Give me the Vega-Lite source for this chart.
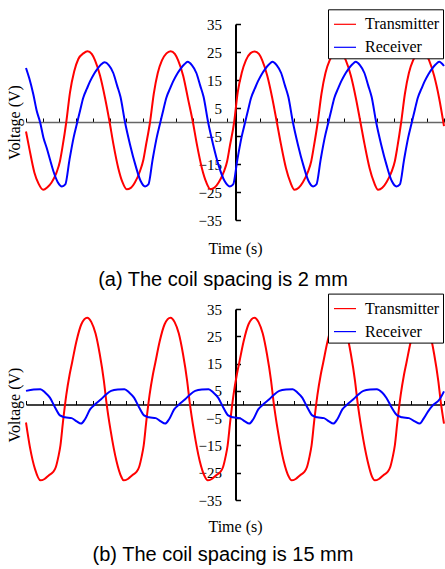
{
"$schema": "https://vega.github.io/schema/vega-lite/v6.json",
"padding": {"left": 6, "top": 8, "right": 0, "bottom": 0},
"bounds": "flush",
"spacing": 89,
"background": "white",
"config": {
  "view": {"stroke": null},
  "axis": {"grid": false, "domainColor": "black", "tickColor": "black", "labelColor": "black", "titleColor": "black", "labelFont": "Liberation Serif", "titleFont": "Liberation Serif", "titleFontWeight": "normal"},
  "legend": {"labelFont": "Liberation Serif", "labelFontSize": 16, "labelColor": "black"}
},
"resolve": {"scale": {"color": "independent"}, "legend": {"color": "independent"}},
"datasets": {
"a": [
{"t":0,"v":-3.4,"s":"Transmitter"},{"t":0.2,"v":-9.5,"s":"Transmitter"},{"t":0.5,"v":-18,"s":"Transmitter"},{"t":0.75,"v":-22,"s":"Transmitter"},{"t":1.03,"v":-24.2,"s":"Transmitter"},{"t":1.28,"v":-23.3,"s":"Transmitter"},{"t":1.53,"v":-21.6,"s":"Transmitter"},{"t":1.83,"v":-18,"s":"Transmitter"},{"t":2.03,"v":-14,"s":"Transmitter"},{"t":2.18,"v":-9,"s":"Transmitter"},{"t":2.41,"v":0,"s":"Transmitter"},{"t":2.63,"v":10.5,"s":"Transmitter"},{"t":2.88,"v":18,"s":"Transmitter"},{"t":3.13,"v":22.5,"s":"Transmitter"},{"t":3.43,"v":24.5,"s":"Transmitter"},{"t":3.68,"v":25.3,"s":"Transmitter"},{"t":3.93,"v":24.3,"s":"Transmitter"},{"t":4.13,"v":22,"s":"Transmitter"},{"t":4.43,"v":16.5,"s":"Transmitter"},{"t":4.73,"v":8.5,"s":"Transmitter"},{"t":5.0,"v":0,"s":"Transmitter"},{"t":5.23,"v":-8,"s":"Transmitter"},{"t":5.52,"v":-16.5,"s":"Transmitter"},{"t":5.77,"v":-21.5,"s":"Transmitter"},{"t":6.02,"v":-24,"s":"Transmitter"},{"t":6.27,"v":-23.5,"s":"Transmitter"},{"t":6.52,"v":-21.5,"s":"Transmitter"},{"t":6.82,"v":-17.5,"s":"Transmitter"},{"t":7.02,"v":-13.5,"s":"Transmitter"},{"t":7.17,"v":-8.5,"s":"Transmitter"},{"t":7.42,"v":0,"s":"Transmitter"},{"t":7.64,"v":10,"s":"Transmitter"},{"t":7.88,"v":17.5,"s":"Transmitter"},{"t":8.13,"v":22,"s":"Transmitter"},{"t":8.4,"v":24.5,"s":"Transmitter"},{"t":8.65,"v":25.3,"s":"Transmitter"},{"t":8.9,"v":24.3,"s":"Transmitter"},{"t":9.1,"v":22,"s":"Transmitter"},{"t":9.4,"v":16.5,"s":"Transmitter"},{"t":9.7,"v":8,"s":"Transmitter"},{"t":9.98,"v":0,"s":"Transmitter"},{"t":10.22,"v":-8,"s":"Transmitter"},{"t":10.52,"v":-16.5,"s":"Transmitter"},{"t":10.78,"v":-21.5,"s":"Transmitter"},{"t":11.03,"v":-24,"s":"Transmitter"},{"t":11.28,"v":-23.4,"s":"Transmitter"},{"t":11.53,"v":-21.5,"s":"Transmitter"},{"t":11.83,"v":-17.8,"s":"Transmitter"},{"t":12.03,"v":-14,"s":"Transmitter"},{"t":12.18,"v":-9,"s":"Transmitter"},{"t":12.45,"v":0,"s":"Transmitter"},{"t":12.66,"v":10.5,"s":"Transmitter"},{"t":12.9,"v":17.5,"s":"Transmitter"},{"t":13.15,"v":22,"s":"Transmitter"},{"t":13.43,"v":24.6,"s":"Transmitter"},{"t":13.68,"v":25.2,"s":"Transmitter"},{"t":13.93,"v":24.3,"s":"Transmitter"},{"t":14.13,"v":22,"s":"Transmitter"},{"t":14.43,"v":16.5,"s":"Transmitter"},{"t":14.73,"v":8.5,"s":"Transmitter"},{"t":15.0,"v":0,"s":"Transmitter"},{"t":15.25,"v":-8,"s":"Transmitter"},{"t":15.55,"v":-16.5,"s":"Transmitter"},{"t":15.81,"v":-21.5,"s":"Transmitter"},{"t":16.06,"v":-24.2,"s":"Transmitter"},{"t":16.31,"v":-23.5,"s":"Transmitter"},{"t":16.56,"v":-21.5,"s":"Transmitter"},{"t":16.86,"v":-17.8,"s":"Transmitter"},{"t":17.06,"v":-14,"s":"Transmitter"},{"t":17.21,"v":-9,"s":"Transmitter"},{"t":17.45,"v":0,"s":"Transmitter"},{"t":17.67,"v":10,"s":"Transmitter"},{"t":17.91,"v":17.5,"s":"Transmitter"},{"t":18.16,"v":22,"s":"Transmitter"},{"t":18.43,"v":24.5,"s":"Transmitter"},{"t":18.68,"v":25.3,"s":"Transmitter"},{"t":18.93,"v":24.3,"s":"Transmitter"},{"t":19.13,"v":22,"s":"Transmitter"},{"t":19.43,"v":16.5,"s":"Transmitter"},{"t":19.73,"v":8.5,"s":"Transmitter"},{"t":20.0,"v":0,"s":"Transmitter"},{"t":20.25,"v":-8,"s":"Transmitter"},{"t":20.55,"v":-16.5,"s":"Transmitter"},{"t":20.81,"v":-21.5,"s":"Transmitter"},{"t":21.06,"v":-24.2,"s":"Transmitter"},{"t":21.31,"v":-23.5,"s":"Transmitter"},{"t":21.56,"v":-21.5,"s":"Transmitter"},{"t":21.86,"v":-17.8,"s":"Transmitter"},{"t":22.06,"v":-14,"s":"Transmitter"},{"t":22.21,"v":-9,"s":"Transmitter"},{"t":22.44,"v":0,"s":"Transmitter"},{"t":22.66,"v":10,"s":"Transmitter"},{"t":22.9,"v":17.5,"s":"Transmitter"},{"t":23.15,"v":22,"s":"Transmitter"},{"t":23.42,"v":24.5,"s":"Transmitter"},{"t":23.66,"v":25.3,"s":"Transmitter"},{"t":23.91,"v":24.3,"s":"Transmitter"},{"t":24.11,"v":22,"s":"Transmitter"},{"t":24.41,"v":16.5,"s":"Transmitter"},{"t":24.71,"v":8.5,"s":"Transmitter"},{"t":25.0,"v":-1.5,"s":"Transmitter"},
{"t":0,"v":19.3,"s":"Receiver"},{"t":0.2,"v":15.5,"s":"Receiver"},{"t":0.44,"v":9.8,"s":"Receiver"},{"t":0.64,"v":4,"s":"Receiver"},{"t":0.84,"v":0,"s":"Receiver"},{"t":1.04,"v":-5.5,"s":"Receiver"},{"t":1.24,"v":-9.3,"s":"Receiver"},{"t":1.44,"v":-13.5,"s":"Receiver"},{"t":1.64,"v":-17.6,"s":"Receiver"},{"t":1.9,"v":-21.5,"s":"Receiver"},{"t":2.15,"v":-23,"s":"Receiver"},{"t":2.35,"v":-22.3,"s":"Receiver"},{"t":2.6,"v":-13.5,"s":"Receiver"},{"t":2.85,"v":-5.5,"s":"Receiver"},{"t":3.07,"v":0,"s":"Receiver"},{"t":3.25,"v":4.5,"s":"Receiver"},{"t":3.42,"v":8.6,"s":"Receiver"},{"t":3.65,"v":12,"s":"Receiver"},{"t":3.83,"v":14.5,"s":"Receiver"},{"t":4.05,"v":17,"s":"Receiver"},{"t":4.25,"v":18.8,"s":"Receiver"},{"t":4.5,"v":20.6,"s":"Receiver"},{"t":4.7,"v":21.3,"s":"Receiver"},{"t":4.95,"v":20.3,"s":"Receiver"},{"t":5.22,"v":17.5,"s":"Receiver"},{"t":5.45,"v":13,"s":"Receiver"},{"t":5.65,"v":9,"s":"Receiver"},{"t":5.92,"v":0,"s":"Receiver"},{"t":6.22,"v":-8,"s":"Receiver"},{"t":6.55,"v":-15.5,"s":"Receiver"},{"t":6.85,"v":-21,"s":"Receiver"},{"t":7.12,"v":-23,"s":"Receiver"},{"t":7.32,"v":-22.3,"s":"Receiver"},{"t":7.57,"v":-13.5,"s":"Receiver"},{"t":7.82,"v":-5.5,"s":"Receiver"},{"t":8.04,"v":0,"s":"Receiver"},{"t":8.22,"v":4.5,"s":"Receiver"},{"t":8.39,"v":8.6,"s":"Receiver"},{"t":8.62,"v":12,"s":"Receiver"},{"t":8.8,"v":14.5,"s":"Receiver"},{"t":9.02,"v":17,"s":"Receiver"},{"t":9.22,"v":18.8,"s":"Receiver"},{"t":9.47,"v":20.6,"s":"Receiver"},{"t":9.67,"v":21.5,"s":"Receiver"},{"t":9.92,"v":20.3,"s":"Receiver"},{"t":10.19,"v":17.5,"s":"Receiver"},{"t":10.42,"v":13,"s":"Receiver"},{"t":10.62,"v":9,"s":"Receiver"},{"t":10.89,"v":0,"s":"Receiver"},{"t":11.19,"v":-8,"s":"Receiver"},{"t":11.52,"v":-15.5,"s":"Receiver"},{"t":11.87,"v":-21,"s":"Receiver"},{"t":12.19,"v":-23,"s":"Receiver"},{"t":12.39,"v":-22.3,"s":"Receiver"},{"t":12.64,"v":-13.5,"s":"Receiver"},{"t":12.89,"v":-5.5,"s":"Receiver"},{"t":13.11,"v":0,"s":"Receiver"},{"t":13.29,"v":4.5,"s":"Receiver"},{"t":13.46,"v":8.6,"s":"Receiver"},{"t":13.69,"v":12,"s":"Receiver"},{"t":13.87,"v":14.5,"s":"Receiver"},{"t":14.09,"v":17,"s":"Receiver"},{"t":14.29,"v":18.8,"s":"Receiver"},{"t":14.54,"v":20.6,"s":"Receiver"},{"t":14.74,"v":21.5,"s":"Receiver"},{"t":14.99,"v":20.3,"s":"Receiver"},{"t":15.26,"v":17.5,"s":"Receiver"},{"t":15.49,"v":13,"s":"Receiver"},{"t":15.69,"v":9,"s":"Receiver"},{"t":15.96,"v":0,"s":"Receiver"},{"t":16.26,"v":-8,"s":"Receiver"},{"t":16.59,"v":-15.5,"s":"Receiver"},{"t":16.89,"v":-21,"s":"Receiver"},{"t":17.17,"v":-23,"s":"Receiver"},{"t":17.37,"v":-22.3,"s":"Receiver"},{"t":17.62,"v":-13.5,"s":"Receiver"},{"t":17.87,"v":-5.5,"s":"Receiver"},{"t":18.09,"v":0,"s":"Receiver"},{"t":18.27,"v":4.5,"s":"Receiver"},{"t":18.44,"v":8.6,"s":"Receiver"},{"t":18.67,"v":12,"s":"Receiver"},{"t":18.85,"v":14.5,"s":"Receiver"},{"t":19.07,"v":17,"s":"Receiver"},{"t":19.27,"v":18.8,"s":"Receiver"},{"t":19.52,"v":20.6,"s":"Receiver"},{"t":19.72,"v":21.5,"s":"Receiver"},{"t":19.97,"v":20.3,"s":"Receiver"},{"t":20.24,"v":17.5,"s":"Receiver"},{"t":20.47,"v":13,"s":"Receiver"},{"t":20.67,"v":9,"s":"Receiver"},{"t":20.94,"v":0,"s":"Receiver"},{"t":21.24,"v":-8,"s":"Receiver"},{"t":21.57,"v":-15.5,"s":"Receiver"},{"t":21.87,"v":-21,"s":"Receiver"},{"t":22.16,"v":-23,"s":"Receiver"},{"t":22.36,"v":-22.3,"s":"Receiver"},{"t":22.61,"v":-13.5,"s":"Receiver"},{"t":22.86,"v":-5.5,"s":"Receiver"},{"t":23.08,"v":0,"s":"Receiver"},{"t":23.26,"v":4.5,"s":"Receiver"},{"t":23.43,"v":8.6,"s":"Receiver"},{"t":23.66,"v":12,"s":"Receiver"},{"t":23.84,"v":14.5,"s":"Receiver"},{"t":24.06,"v":17,"s":"Receiver"},{"t":24.26,"v":18.8,"s":"Receiver"},{"t":24.51,"v":20.6,"s":"Receiver"},{"t":24.71,"v":21.5,"s":"Receiver"},{"t":25,"v":20,"s":"Receiver"}
],
"b": [
{"t":0,"v":-6.6,"s":"Transmitter"},{"t":0.24,"v":-15.8,"s":"Transmitter"},{"t":0.54,"v":-23.7,"s":"Transmitter"},{"t":0.86,"v":-27.8,"s":"Transmitter"},{"t":1.11,"v":-27.3,"s":"Transmitter"},{"t":1.36,"v":-26,"s":"Transmitter"},{"t":1.61,"v":-24.8,"s":"Transmitter"},{"t":1.78,"v":-23,"s":"Transmitter"},{"t":1.94,"v":-19,"s":"Transmitter"},{"t":2.06,"v":-15,"s":"Transmitter"},{"t":2.21,"v":-6.5,"s":"Transmitter"},{"t":2.41,"v":3.5,"s":"Transmitter"},{"t":2.61,"v":11,"s":"Transmitter"},{"t":2.76,"v":15.5,"s":"Transmitter"},{"t":3.01,"v":23,"s":"Transmitter"},{"t":3.31,"v":29.4,"s":"Transmitter"},{"t":3.66,"v":31.8,"s":"Transmitter"},{"t":3.91,"v":30.2,"s":"Transmitter"},{"t":4.16,"v":26,"s":"Transmitter"},{"t":4.41,"v":18.5,"s":"Transmitter"},{"t":4.66,"v":8.6,"s":"Transmitter"},{"t":4.81,"v":0.8,"s":"Transmitter"},{"t":5.06,"v":-9.5,"s":"Transmitter"},{"t":5.41,"v":-20.7,"s":"Transmitter"},{"t":5.7,"v":-26.5,"s":"Transmitter"},{"t":5.84,"v":-27.8,"s":"Transmitter"},{"t":6.09,"v":-27.3,"s":"Transmitter"},{"t":6.34,"v":-26,"s":"Transmitter"},{"t":6.59,"v":-24.8,"s":"Transmitter"},{"t":6.76,"v":-23,"s":"Transmitter"},{"t":6.92,"v":-19,"s":"Transmitter"},{"t":7.04,"v":-15,"s":"Transmitter"},{"t":7.19,"v":-6.5,"s":"Transmitter"},{"t":7.39,"v":3.5,"s":"Transmitter"},{"t":7.59,"v":11,"s":"Transmitter"},{"t":7.74,"v":15.5,"s":"Transmitter"},{"t":7.99,"v":23,"s":"Transmitter"},{"t":8.29,"v":29.4,"s":"Transmitter"},{"t":8.64,"v":31.8,"s":"Transmitter"},{"t":8.89,"v":30.2,"s":"Transmitter"},{"t":9.14,"v":26,"s":"Transmitter"},{"t":9.39,"v":18.5,"s":"Transmitter"},{"t":9.64,"v":8.6,"s":"Transmitter"},{"t":9.79,"v":0.8,"s":"Transmitter"},{"t":10.04,"v":-9.5,"s":"Transmitter"},{"t":10.39,"v":-20.7,"s":"Transmitter"},{"t":10.7,"v":-26.5,"s":"Transmitter"},{"t":10.86,"v":-27.8,"s":"Transmitter"},{"t":11.11,"v":-27.3,"s":"Transmitter"},{"t":11.36,"v":-26,"s":"Transmitter"},{"t":11.61,"v":-24.8,"s":"Transmitter"},{"t":11.78,"v":-23,"s":"Transmitter"},{"t":11.94,"v":-19,"s":"Transmitter"},{"t":12.06,"v":-15,"s":"Transmitter"},{"t":12.21,"v":-6.5,"s":"Transmitter"},{"t":12.41,"v":3.5,"s":"Transmitter"},{"t":12.61,"v":11,"s":"Transmitter"},{"t":12.76,"v":15.5,"s":"Transmitter"},{"t":13.01,"v":23,"s":"Transmitter"},{"t":13.31,"v":29.4,"s":"Transmitter"},{"t":13.66,"v":31.8,"s":"Transmitter"},{"t":13.91,"v":30.2,"s":"Transmitter"},{"t":14.16,"v":26,"s":"Transmitter"},{"t":14.41,"v":18.5,"s":"Transmitter"},{"t":14.66,"v":8.6,"s":"Transmitter"},{"t":14.81,"v":0.8,"s":"Transmitter"},{"t":15.06,"v":-9.5,"s":"Transmitter"},{"t":15.41,"v":-20.7,"s":"Transmitter"},{"t":15.72,"v":-26.5,"s":"Transmitter"},{"t":15.88,"v":-27.8,"s":"Transmitter"},{"t":16.13,"v":-27.3,"s":"Transmitter"},{"t":16.38,"v":-26,"s":"Transmitter"},{"t":16.63,"v":-24.8,"s":"Transmitter"},{"t":16.8,"v":-23,"s":"Transmitter"},{"t":16.96,"v":-19,"s":"Transmitter"},{"t":17.08,"v":-15,"s":"Transmitter"},{"t":17.23,"v":-6.5,"s":"Transmitter"},{"t":17.43,"v":3.5,"s":"Transmitter"},{"t":17.63,"v":11,"s":"Transmitter"},{"t":17.78,"v":15.5,"s":"Transmitter"},{"t":18.03,"v":23,"s":"Transmitter"},{"t":18.33,"v":29.4,"s":"Transmitter"},{"t":18.68,"v":31.8,"s":"Transmitter"},{"t":18.93,"v":30.2,"s":"Transmitter"},{"t":19.18,"v":26,"s":"Transmitter"},{"t":19.43,"v":18.5,"s":"Transmitter"},{"t":19.68,"v":8.6,"s":"Transmitter"},{"t":19.83,"v":0.8,"s":"Transmitter"},{"t":20.08,"v":-9.5,"s":"Transmitter"},{"t":20.43,"v":-20.7,"s":"Transmitter"},{"t":20.7,"v":-26.5,"s":"Transmitter"},{"t":20.86,"v":-27.8,"s":"Transmitter"},{"t":21.11,"v":-27.3,"s":"Transmitter"},{"t":21.36,"v":-26,"s":"Transmitter"},{"t":21.61,"v":-24.8,"s":"Transmitter"},{"t":21.78,"v":-23,"s":"Transmitter"},{"t":21.94,"v":-19,"s":"Transmitter"},{"t":22.06,"v":-15,"s":"Transmitter"},{"t":22.21,"v":-6.5,"s":"Transmitter"},{"t":22.41,"v":3.5,"s":"Transmitter"},{"t":22.61,"v":11,"s":"Transmitter"},{"t":22.76,"v":15.5,"s":"Transmitter"},{"t":23.01,"v":23,"s":"Transmitter"},{"t":23.31,"v":29.4,"s":"Transmitter"},{"t":23.66,"v":31.8,"s":"Transmitter"},{"t":23.91,"v":30.2,"s":"Transmitter"},{"t":24.16,"v":26,"s":"Transmitter"},{"t":24.41,"v":18.5,"s":"Transmitter"},{"t":24.66,"v":8.6,"s":"Transmitter"},{"t":24.81,"v":0.8,"s":"Transmitter"},{"t":25,"v":-7,"s":"Transmitter"},
{"t":0,"v":5.0,"s":"Receiver"},{"t":0.46,"v":5.5,"s":"Receiver"},{"t":0.86,"v":5.6,"s":"Receiver"},{"t":1.14,"v":4.4,"s":"Receiver"},{"t":1.43,"v":2.5,"s":"Receiver"},{"t":1.73,"v":-1.0,"s":"Receiver"},{"t":2.03,"v":-4.0,"s":"Receiver"},{"t":2.33,"v":-4.7,"s":"Receiver"},{"t":2.73,"v":-5.0,"s":"Receiver"},{"t":3.03,"v":-6.2,"s":"Receiver"},{"t":3.29,"v":-7.0,"s":"Receiver"},{"t":3.53,"v":-5.4,"s":"Receiver"},{"t":3.83,"v":-1.8,"s":"Receiver"},{"t":4.12,"v":0,"s":"Receiver"},{"t":4.49,"v":1.9,"s":"Receiver"},{"t":4.79,"v":3.7,"s":"Receiver"},{"t":5.09,"v":5.0,"s":"Receiver"},{"t":5.49,"v":5.5,"s":"Receiver"},{"t":5.89,"v":5.6,"s":"Receiver"},{"t":6.17,"v":4.4,"s":"Receiver"},{"t":6.46,"v":2.5,"s":"Receiver"},{"t":6.76,"v":-1.0,"s":"Receiver"},{"t":7.06,"v":-4.0,"s":"Receiver"},{"t":7.36,"v":-4.7,"s":"Receiver"},{"t":7.76,"v":-5.0,"s":"Receiver"},{"t":8.06,"v":-6.2,"s":"Receiver"},{"t":8.32,"v":-7.0,"s":"Receiver"},{"t":8.56,"v":-5.4,"s":"Receiver"},{"t":8.86,"v":-1.8,"s":"Receiver"},{"t":9.15,"v":0,"s":"Receiver"},{"t":9.52,"v":1.9,"s":"Receiver"},{"t":9.82,"v":3.7,"s":"Receiver"},{"t":10.12,"v":5.0,"s":"Receiver"},{"t":10.52,"v":5.5,"s":"Receiver"},{"t":10.92,"v":5.6,"s":"Receiver"},{"t":11.2,"v":4.4,"s":"Receiver"},{"t":11.49,"v":2.5,"s":"Receiver"},{"t":11.79,"v":-1.0,"s":"Receiver"},{"t":12.09,"v":-4.0,"s":"Receiver"},{"t":12.39,"v":-4.7,"s":"Receiver"},{"t":12.79,"v":-5.0,"s":"Receiver"},{"t":13.09,"v":-6.2,"s":"Receiver"},{"t":13.35,"v":-7.0,"s":"Receiver"},{"t":13.59,"v":-5.4,"s":"Receiver"},{"t":13.89,"v":-1.8,"s":"Receiver"},{"t":14.18,"v":0,"s":"Receiver"},{"t":14.55,"v":1.9,"s":"Receiver"},{"t":14.85,"v":3.7,"s":"Receiver"},{"t":15.15,"v":5.0,"s":"Receiver"},{"t":15.55,"v":5.5,"s":"Receiver"},{"t":15.95,"v":5.6,"s":"Receiver"},{"t":16.23,"v":4.4,"s":"Receiver"},{"t":16.52,"v":2.5,"s":"Receiver"},{"t":16.82,"v":-1.0,"s":"Receiver"},{"t":17.12,"v":-4.0,"s":"Receiver"},{"t":17.42,"v":-4.7,"s":"Receiver"},{"t":17.82,"v":-5.0,"s":"Receiver"},{"t":18.12,"v":-6.2,"s":"Receiver"},{"t":18.38,"v":-7.0,"s":"Receiver"},{"t":18.62,"v":-5.4,"s":"Receiver"},{"t":18.92,"v":-1.8,"s":"Receiver"},{"t":19.21,"v":0,"s":"Receiver"},{"t":19.58,"v":1.9,"s":"Receiver"},{"t":19.88,"v":3.7,"s":"Receiver"},{"t":20.18,"v":5.0,"s":"Receiver"},{"t":20.58,"v":5.5,"s":"Receiver"},{"t":20.98,"v":5.6,"s":"Receiver"},{"t":21.3,"v":4.4,"s":"Receiver"},{"t":21.55,"v":2.5,"s":"Receiver"},{"t":21.86,"v":-1.0,"s":"Receiver"},{"t":22.2,"v":-4.0,"s":"Receiver"},{"t":22.5,"v":-4.7,"s":"Receiver"},{"t":22.9,"v":-5.0,"s":"Receiver"},{"t":23.25,"v":-6.2,"s":"Receiver"},{"t":23.55,"v":-7.0,"s":"Receiver"},{"t":23.8,"v":-5.0,"s":"Receiver"},{"t":24.05,"v":-2.5,"s":"Receiver"},{"t":24.3,"v":-0.5,"s":"Receiver"},{"t":24.75,"v":2.0,"s":"Receiver"},{"t":25,"v":4.8,"s":"Receiver"}
]
},
"vconcat": [
{
  "width": 418, "height": 196,
  "data": {"name": "a"},
  "title": {"text": "(a) The coil spacing is 2 mm", "orient": "bottom", "anchor": "middle", "frame": "group", "font": "Liberation Sans", "fontSize": 20, "fontWeight": "normal", "color": "black", "offset": 14, "dx": -12},
  "mark": {"type": "line", "strokeWidth": 2, "interpolate": "monotone"},
  "encoding": {
    "x": {"field": "t", "type": "quantitative", "scale": {"domain": [0, 25], "nice": false, "zero": false},
          "axis": {"offset": -98, "values": [0,1,2,3,4,5,6,7,8,9,10,11,12,13,14,15,16,17,18,19,20,21,22,23,24,25], "labels": false, "tickSize": -4, "tickWidth": 1, "domainColor": "#666666", "domainWidth": 1.5, "title": "Time (s)", "titleFontSize": 16, "titleY": 126, "titleBaseline": "middle"}},
    "y": {"field": "v", "type": "quantitative", "scale": {"domain": [-35, 35], "nice": false},
          "axis": {"offset": -209.5, "values": [-35,-25,-15,-5,5,15,25,35], "tickSize": -5, "tickWidth": 1.5, "domainWidth": 2, "labelFontSize": 15, "labelPadding": 19, "labelOverlap": false, "title": "Voltage (V)", "titleFontSize": 16, "titleX": -221.5, "titleBaseline": "middle"}},
    "color": {"field": "s", "type": "nominal", "scale": {"domain": ["Transmitter", "Receiver"], "range": ["#ff0000", "#0000ff"]},
              "legend": {"title": null, "orient": "none", "legendX": 302, "legendY": -14.7, "direction": "vertical", "strokeColor": "black", "fillColor": "white", "padding": 3, "symbolType": "stroke", "symbolSize": 484, "symbolStrokeWidth": 1.2, "symbolOffset": 2, "labelOffset": 8, "rowPadding": 3, "labelLimit": 300}}
  }
},
{
  "width": 418, "height": 191,
  "data": {"name": "b"},
  "title": {"text": "(b) The coil spacing is 15 mm", "orient": "bottom", "anchor": "middle", "frame": "group", "font": "Liberation Sans", "fontSize": 20, "fontWeight": "normal", "color": "black", "offset": 10, "dx": -12},
  "mark": {"type": "line", "strokeWidth": 2, "interpolate": "monotone"},
  "encoding": {
    "x": {"field": "t", "type": "quantitative", "scale": {"domain": [0, 25], "nice": false, "zero": false},
          "axis": {"offset": -95.5, "values": [0,1,2,3,4,5,6,7,8,9,10,11,12,13,14,15,16,17,18,19,20,21,22,23,24,25], "labels": false, "tickSize": -4, "tickWidth": 1, "domainColor": "black", "domainWidth": 1.5, "title": "Time (s)", "titleFontSize": 16, "titleY": 122.4, "titleBaseline": "middle"}},
    "y": {"field": "v", "type": "quantitative", "scale": {"domain": [-35, 35], "nice": false},
          "axis": {"offset": -209.5, "values": [-35,-25,-15,-5,5,15,25,35], "tickSize": -5, "tickWidth": 1.5, "domainWidth": 2, "labelFontSize": 15, "labelPadding": 19, "labelOverlap": false, "title": "Voltage (V)", "titleFontSize": 16, "titleX": -221.5, "titleBaseline": "middle"}},
    "color": {"field": "s", "type": "nominal", "scale": {"domain": ["Transmitter", "Receiver"], "range": ["#ff0000", "#0000ff"]},
              "legend": {"title": null, "orient": "none", "legendX": 302, "legendY": -15.4, "direction": "vertical", "strokeColor": "black", "fillColor": "white", "padding": 3, "symbolType": "stroke", "symbolSize": 484, "symbolStrokeWidth": 1.2, "symbolOffset": 2, "labelOffset": 8, "rowPadding": 3, "labelLimit": 300}}
  }
}
]
}
